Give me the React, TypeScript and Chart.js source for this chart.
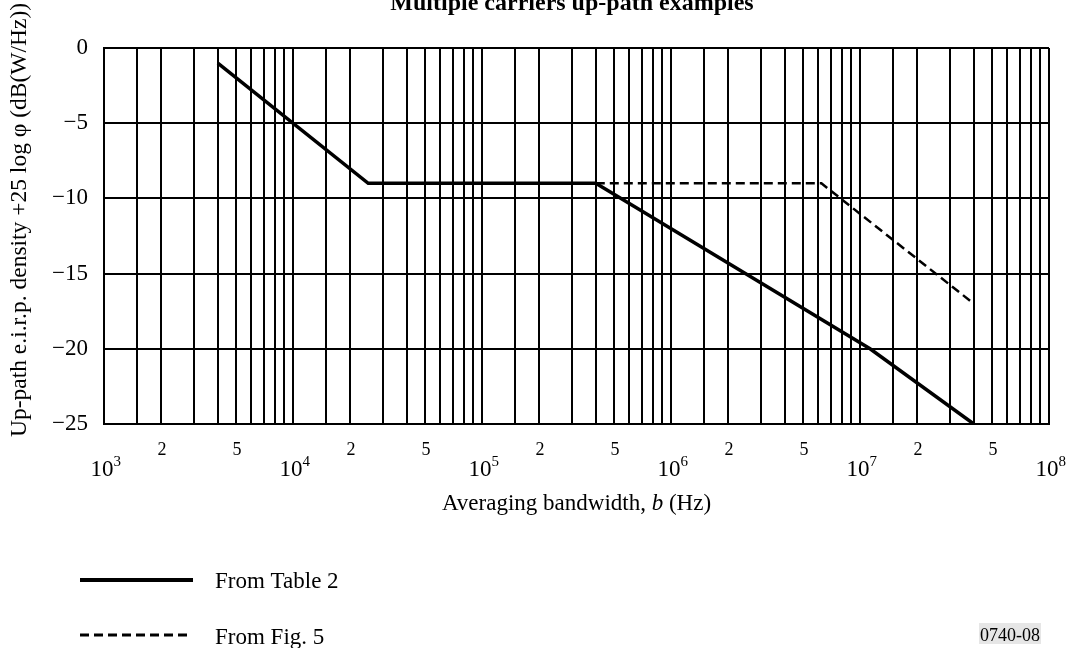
import { useEffect, useRef } from "react";
import { Chart, registerables } from "chart.js";

Chart.register(...registerables);

// ---- data ----
const tableBandwidth = [4e3, 2.5e4, 4e5, 1.13e7, 4e7];
const tableLevel = [-1, -9, -9, -20, -25];
const figBandwidth = [4e5, 6.25e6, 4e7];
const figLevel = [-9, -9, -17];
const yTickValues = [0, -5, -10, -15, -20, -25];
const decadeExponents = [3, 4, 5, 6, 7, 8];
const gridMultipliers = [1, 1.5, 2, 3, 4, 5, 6, 7, 8, 9];
const labeledMultipliers = [2, 5];
const legendLabels = ["From Table 2", "From Fig. 5"];
const titleText = "Multiple carriers up-path examples";
const yTitleText = "Up-path e.i.r.p. density +25 log \u03c6 (dB(W/Hz))";
const xTitleParts = ["Averaging bandwidth, ", "b", " (Hz)"];
const figureId = "0740-08";

const SERIF = '"Liberation Serif", "Times New Roman", serif';

const gridValues: number[] = [];
decadeExponents.forEach((e) => {
  gridMultipliers.forEach((m) => {
    const v = m * Math.pow(10, e);
    if (v <= Math.pow(10, decadeExponents[decadeExponents.length - 1])) gridValues.push(v);
  });
});

const labelsPlugin = {
  id: "figureText",
  afterDraw(chart: any) {
    const ctx = chart.ctx as CanvasRenderingContext2D;
    const xs = chart.scales.x;
    ctx.save();
    ctx.fillStyle = "#000";
    ctx.strokeStyle = "#000";

    // title
    ctx.font = `bold 24px ${SERIF}`;
    ctx.textAlign = "center";
    ctx.textBaseline = "alphabetic";
    ctx.fillText(titleText, 572, 10);

    // y title
    ctx.save();
    ctx.translate(20, 220);
    ctx.rotate(-Math.PI / 2);
    ctx.font = `23.5px ${SERIF}`;
    ctx.textAlign = "center";
    ctx.textBaseline = "middle";
    ctx.fillText(yTitleText, 0, 0);
    ctx.restore();

    // x tick labels: minor (2, 5)
    ctx.textAlign = "center";
    ctx.textBaseline = "alphabetic";
    ctx.font = `18px ${SERIF}`;
    decadeExponents.slice(0, -1).forEach((e) => {
      labeledMultipliers.forEach((m) => {
        const px = xs.getPixelForValue(m * Math.pow(10, e));
        ctx.fillText(String(m), px + 1, 455);
      });
    });
    // decades with superscripts
    decadeExponents.forEach((e) => {
      const px = xs.getPixelForValue(Math.pow(10, e));
      ctx.font = `23px ${SERIF}`;
      const w10 = ctx.measureText("10").width;
      const sx = px - 2 - w10 / 2;
      ctx.textAlign = "left";
      ctx.fillText("10", sx, 476);
      ctx.font = `15px ${SERIF}`;
      ctx.fillText(String(e), sx + w10, 466);
    });

    // x title
    ctx.textAlign = "left";
    const fonts = [`23px ${SERIF}`, `italic 23px ${SERIF}`, `23px ${SERIF}`];
    let total = 0;
    const widths = xTitleParts.map((t, i) => {
      ctx.font = fonts[i];
      const w = ctx.measureText(t).width;
      total += w;
      return w;
    });
    let cx = (chart.chartArea.left + chart.chartArea.right) / 2 - total / 2;
    xTitleParts.forEach((t, i) => {
      ctx.font = fonts[i];
      ctx.fillText(t, cx, 510);
      cx += widths[i];
    });

    // legend
    ctx.lineCap = "butt";
    ctx.lineWidth = 4;
    ctx.setLineDash([]);
    ctx.beginPath();
    ctx.moveTo(80, 580);
    ctx.lineTo(193, 580);
    ctx.stroke();
    ctx.lineWidth = 3;
    ctx.setLineDash([9, 5]);
    ctx.beginPath();
    ctx.moveTo(80, 635);
    ctx.lineTo(192, 635);
    ctx.stroke();
    ctx.setLineDash([]);
    ctx.font = `23px ${SERIF}`;
    ctx.fillText(legendLabels[0], 215, 588);
    ctx.fillText(legendLabels[1], 215, 644);

    // figure id
    ctx.font = `18px ${SERIF}`;
    const wid = ctx.measureText(figureId).width;
    ctx.fillStyle = "#e6e6e6";
    ctx.fillRect(1040 - wid - 1, 623, wid + 2, 21);
    ctx.fillStyle = "#000";
    ctx.fillText(figureId, 1040 - wid, 641);

    ctx.restore();
  },
};

export default function App() {
  const ref = useRef<HTMLCanvasElement | null>(null);

  useEffect(() => {
    if (!ref.current) return;
    const chart = new Chart(ref.current, {
      type: "line",
      data: {
        datasets: [
          {
            label: legendLabels[0],
            data: tableBandwidth.map((b, i) => ({ x: b, y: tableLevel[i] })),
            borderColor: "#000",
            borderWidth: 3.5,
            pointRadius: 0,
            tension: 0,
            fill: false,
          },
          {
            label: legendLabels[1],
            data: figBandwidth.map((b, i) => ({ x: b, y: figLevel[i] })),
            borderColor: "#000",
            borderWidth: 2.5,
            borderDash: [9, 5],
            pointRadius: 0,
            tension: 0,
            fill: false,
          },
        ],
      },
      options: {
        responsive: false,
        animation: false,
        events: [],
        layout: { padding: { left: 0, top: 48, right: 21, bottom: 224 } },
        plugins: { legend: { display: false }, tooltip: { enabled: false } },
        scales: {
          x: {
            type: "logarithmic",
            min: 1e3,
            max: 1e8,
            afterBuildTicks: (s: any) => {
              s.ticks = gridValues.map((v) => ({ value: v }));
            },
            ticks: { display: false },
            grid: { color: "#000", lineWidth: 2, drawTicks: false },
            border: { color: "#000", width: 2 },
          },
          y: {
            type: "linear",
            min: -25,
            max: 0,
            afterBuildTicks: (s: any) => {
              s.ticks = yTickValues.map((v) => ({ value: v }));
            },
            afterFit: (s: any) => {
              s.width = 104;
            },
            ticks: {
              color: "#000",
              padding: 16,
              font: { family: SERIF, size: 23 },
              callback: (v: any) => (Number(v) === 0 ? "0" : "\u2212" + Math.abs(Number(v))),
            },
            grid: { color: "#000", lineWidth: 2, drawTicks: false },
            border: { color: "#000", width: 2 },
          },
        },
      },
      plugins: [labelsPlugin],
    } as any);
    return () => chart.destroy();
  }, []);

  return (
    <div style={{ position: "absolute", left: 0, top: 0, width: 1070, height: 648, background: "#fff" }}>
      <canvas ref={ref} width={1070} height={648} style={{ display: "block", width: 1070, height: 648 }} />
    </div>
  );
}
